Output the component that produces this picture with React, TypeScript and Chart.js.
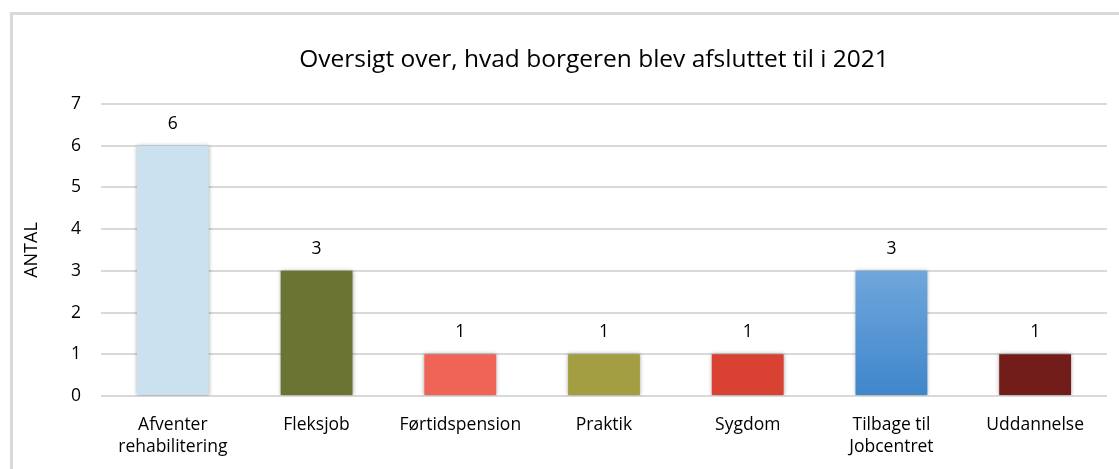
import React, { useEffect, useRef } from "react";
import { Chart, registerables } from "chart.js";

Chart.register(...registerables);

const categories: (string | string[])[] = [
  ["Afventer", "rehabilitering"],
  "Fleksjob",
  "Førtidspension",
  "Praktik",
  "Sygdom",
  ["Tilbage til", "Jobcentret"],
  "Uddannelse",
];
const values = [6, 3, 1, 1, 1, 3, 1];
const barColors = ["#cce1ef", "#6b7433", "#f06458", "#a39e42", "#d94232", "gradient", "#721d19"];
const yTicks = [0, 1, 2, 3, 4, 5, 6, 7];
const titleText = "Oversigt over, hvad borgeren blev afsluttet til i 2021";
const yTitle = "ANTAL";

const FONT = "'Open Sans', sans-serif";

export default function App() {
  const ref = useRef<HTMLCanvasElement | null>(null);

  useEffect(() => {
    document.body.style.margin = "0";
    const canvas = ref.current!;
    const labelPlugin = {
      id: "valueLabels",
      afterDatasetsDraw(chart: any) {
        const ctx = chart.ctx;
        const meta = chart.getDatasetMeta(0);
        ctx.save();
        ctx.font = `17.5px ${FONT}`;
        ctx.fillStyle = "#000";
        ctx.textAlign = "center";
        ctx.textBaseline = "middle";
        meta.data.forEach((bar: any, i: number) => {
          ctx.fillText(String(values[i]), bar.x, bar.y - 22);
        });
        ctx.restore();
      },
    };
    const titlePlugin = {
      id: "customTitle",
      afterDraw(chart: any) {
        const ctx = chart.ctx;
        ctx.save();
        ctx.font = `24.5px ${FONT}`;
        ctx.fillStyle = "#000";
        ctx.textAlign = "center";
        ctx.textBaseline = "middle";
        ctx.fillText(titleText, 594, 60);
        ctx.restore();
      },
    };
    const shadowPlugin = {
      id: "barShadow",
      beforeDatasetDraw(chart: any) {
        const ctx = chart.ctx;
        ctx.save();
        ctx.shadowColor = "rgba(0,0,0,0.35)";
        ctx.shadowBlur = 4;
        ctx.shadowOffsetX = 0;
        ctx.shadowOffsetY = 0;
      },
      afterDatasetDraw(chart: any) {
        chart.ctx.restore();
      },
    };
    const chart = new Chart(canvas, {
      type: "bar",
      data: {
        labels: categories,
        datasets: [
          {
            data: values,
            backgroundColor: (c: any) => {
              const col = barColors[c.dataIndex];
              if (col !== "gradient") return col;
              const area = c.chart.chartArea;
              if (!area) return "#5b97d4";
              const g = c.chart.ctx.createLinearGradient(0, area.bottom - (area.bottom - area.top) * 3 / 7, 0, area.bottom);
              g.addColorStop(0, "#70a6dc");
              g.addColorStop(1, "#3f86cb");
              return g;
            },
            barPercentage: 0.5,
            categoryPercentage: 1,
            borderWidth: 0,
          },
        ],
      },
      options: {
        animation: false,
        responsive: false,
        maintainAspectRatio: false,
        layout: { padding: { left: 0, right: 12, top: 104, bottom: 0 } },
        plugins: {
          legend: { display: false },
          tooltip: { enabled: false },
          title: { display: false },
        },
        scales: {
          x: {
            grid: { display: false },
            border: { display: false },
            ticks: {
              color: "#000",
              font: { family: FONT, size: 17.5, lineHeight: 1.26 },
              padding: 10,
              maxRotation: 0,
              autoSkip: false,
            },
            afterFit: (s: any) => {
              s.height = 73;
            },
          },
          y: {
            min: 0,
            max: 7,
            afterBuildTicks: (s: any) => {
              s.ticks = yTicks.map((v) => ({ value: v }));
            },
            grid: { color: "#d9d9d9", lineWidth: 2, drawTicks: false },
            border: { display: false },
            ticks: {
              color: "#000",
              font: { family: FONT, size: 17.5 },
              padding: 20,
            },
            title: {
              display: true,
              text: yTitle,
              color: "#000",
              font: { family: FONT, size: 18, lineHeight: 1.2 },
              padding: { top: 21, bottom: 0 },
            },
            afterFit: (s: any) => {
              s.width = 101;
            },
          },
        },
      },
      plugins: [shadowPlugin, labelPlugin, titlePlugin],
    });
    return () => chart.destroy();
  }, []);

  return (
    <div style={{ position: "relative", width: 1119, height: 469, overflow: "hidden", background: "#fff" }}>
      <div
        style={{
          position: "absolute",
          left: 10,
          top: 12,
          width: 1300,
          height: 700,
          border: "3px solid #d9d9d9",
          boxSizing: "border-box",
        }}
      />
      <canvas ref={ref} width={1119} height={469} style={{ position: "absolute", left: 0, top: 0 }} />
    </div>
  );
}
